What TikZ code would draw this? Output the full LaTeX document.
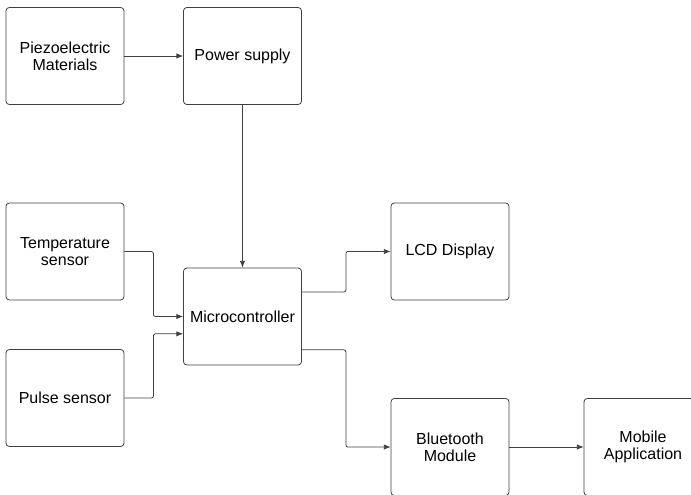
\documentclass[tikz,border=0pt]{standalone}
\usepackage{fontspec}
\setmainfont{Liberation Sans}
\usetikzlibrary{arrows.meta}

\tikzset{
  block/.style={draw=black!75, line width=0.6pt, rounded corners=2.5pt,
    minimum width=88.5pt, minimum height=72.75pt, inner sep=0pt,
    align=center, font=\fontsize{12}{13}\selectfont},
  link/.style={draw=black!75, line width=0.6pt, rounded corners=1.5pt,
    -{Latex[length=5pt,width=4pt]}}
}

\begin{document}
\begin{tikzpicture}[x=0.75pt, y=-0.75pt]

\clip (0,0) rectangle (691,495);

\node[block] (piezo) at (65, 56) {Piezoelectric\\Materials};
\node[block] (power) at (242.5, 56) {Power supply};
\node[block] (temp) at (65, 251.5) {Temperature\\sensor};
\node[block] (pulse) at (65, 398) {Pulse sensor};
\node[block] (micro) at (242.5, 316.5) {Microcontroller};
\node[block] (lcd) at (450, 251.5) {LCD Display};
\node[block] (bt) at (450, 447) {Bluetooth\\Module};
\node[block] (mobile) at (643, 447) {Mobile\\Application};

\draw[link] (piezo) -- (power);
\draw[link] (power) -- (micro);
\draw[link] (temp.east) -- ++(29,0) |- (micro.west);
\draw[link] (pulse.east) -- ++(29,0) |- ([yshift=-13pt]micro.west);
\draw[link] ([yshift=18.4pt]micro.east) -- ++(44,0) |- (lcd.west);
\draw[link] ([yshift=-25pt]micro.east) -- ++(44,0) |- (bt.west);
\draw[link] (bt) -- (mobile);
\end{tikzpicture}
\end{document}
